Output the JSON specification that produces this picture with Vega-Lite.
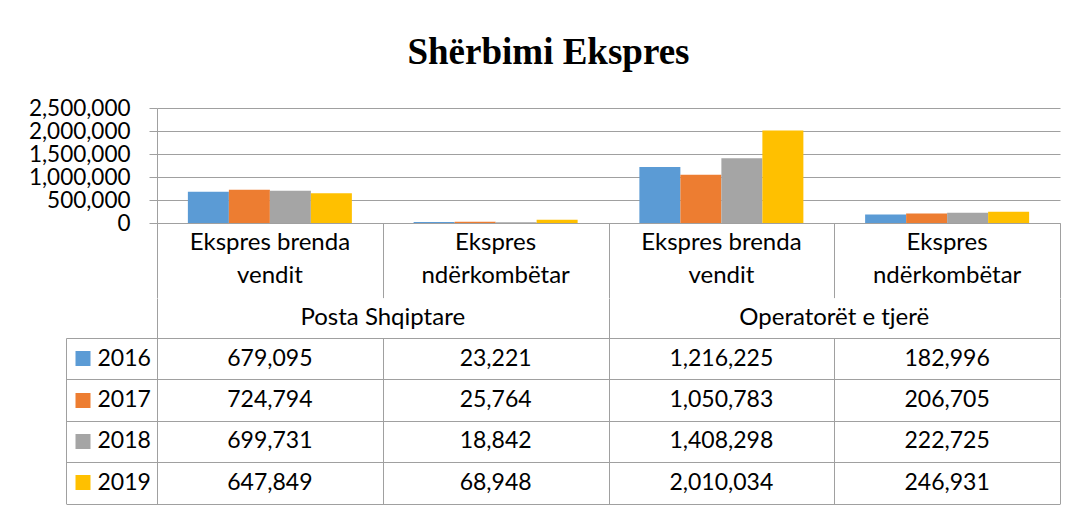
{
  "$schema": "https://vega.github.io/schema/vega-lite/v6.json",
  "background": "white",
  "padding": {"left": 28, "top": 34, "right": 12, "bottom": 4},
  "title": {"text": "Shërbimi Ekspres", "font": "Liberation Serif", "fontSize": 37, "fontWeight": "bold", "color": "black", "anchor": "middle", "offset": 25, "dx": 4},
  "spacing": 0,
  "bounds": "flush",
  "config": {"view": {"stroke": null}, "axis": {"labelFont": "Lato", "labelColor": "black"}},
  "datasets": {
    "ekspres": [
      {"operatori": "Posta Shqiptare", "sherbimi": "Ekspres brenda vendit", "kategoria": "Posta Shqiptare - Ekspres brenda vendit", "viti": "2016", "vlera": 679095},
      {"operatori": "Posta Shqiptare", "sherbimi": "Ekspres brenda vendit", "kategoria": "Posta Shqiptare - Ekspres brenda vendit", "viti": "2017", "vlera": 724794},
      {"operatori": "Posta Shqiptare", "sherbimi": "Ekspres brenda vendit", "kategoria": "Posta Shqiptare - Ekspres brenda vendit", "viti": "2018", "vlera": 699731},
      {"operatori": "Posta Shqiptare", "sherbimi": "Ekspres brenda vendit", "kategoria": "Posta Shqiptare - Ekspres brenda vendit", "viti": "2019", "vlera": 647849},
      {"operatori": "Posta Shqiptare", "sherbimi": "Ekspres ndërkombëtar", "kategoria": "Posta Shqiptare - Ekspres ndërkombëtar", "viti": "2016", "vlera": 23221},
      {"operatori": "Posta Shqiptare", "sherbimi": "Ekspres ndërkombëtar", "kategoria": "Posta Shqiptare - Ekspres ndërkombëtar", "viti": "2017", "vlera": 25764},
      {"operatori": "Posta Shqiptare", "sherbimi": "Ekspres ndërkombëtar", "kategoria": "Posta Shqiptare - Ekspres ndërkombëtar", "viti": "2018", "vlera": 18842},
      {"operatori": "Posta Shqiptare", "sherbimi": "Ekspres ndërkombëtar", "kategoria": "Posta Shqiptare - Ekspres ndërkombëtar", "viti": "2019", "vlera": 68948},
      {"operatori": "Operatorët e tjerë", "sherbimi": "Ekspres brenda vendit", "kategoria": "Operatorët e tjerë - Ekspres brenda vendit", "viti": "2016", "vlera": 1216225},
      {"operatori": "Operatorët e tjerë", "sherbimi": "Ekspres brenda vendit", "kategoria": "Operatorët e tjerë - Ekspres brenda vendit", "viti": "2017", "vlera": 1050783},
      {"operatori": "Operatorët e tjerë", "sherbimi": "Ekspres brenda vendit", "kategoria": "Operatorët e tjerë - Ekspres brenda vendit", "viti": "2018", "vlera": 1408298},
      {"operatori": "Operatorët e tjerë", "sherbimi": "Ekspres brenda vendit", "kategoria": "Operatorët e tjerë - Ekspres brenda vendit", "viti": "2019", "vlera": 2010034},
      {"operatori": "Operatorët e tjerë", "sherbimi": "Ekspres ndërkombëtar", "kategoria": "Operatorët e tjerë - Ekspres ndërkombëtar", "viti": "2016", "vlera": 182996},
      {"operatori": "Operatorët e tjerë", "sherbimi": "Ekspres ndërkombëtar", "kategoria": "Operatorët e tjerë - Ekspres ndërkombëtar", "viti": "2017", "vlera": 206705},
      {"operatori": "Operatorët e tjerë", "sherbimi": "Ekspres ndërkombëtar", "kategoria": "Operatorët e tjerë - Ekspres ndërkombëtar", "viti": "2018", "vlera": 222725},
      {"operatori": "Operatorët e tjerë", "sherbimi": "Ekspres ndërkombëtar", "kategoria": "Operatorët e tjerë - Ekspres ndërkombëtar", "viti": "2019", "vlera": 246931}
    ],
    "kategorite": [
      {"operatori": "Posta Shqiptare", "sherbimi": "Ekspres brenda vendit", "kategoria": "Posta Shqiptare - Ekspres brenda vendit"},
      {"operatori": "Posta Shqiptare", "sherbimi": "Ekspres ndërkombëtar", "kategoria": "Posta Shqiptare - Ekspres ndërkombëtar"},
      {"operatori": "Operatorët e tjerë", "sherbimi": "Ekspres brenda vendit", "kategoria": "Operatorët e tjerë - Ekspres brenda vendit"},
      {"operatori": "Operatorët e tjerë", "sherbimi": "Ekspres ndërkombëtar", "kategoria": "Operatorët e tjerë - Ekspres ndërkombëtar"}
    ],
    "operatoret": [
      {"operatori": "Posta Shqiptare"},
      {"operatori": "Operatorët e tjerë"}
    ]
  },
  "vconcat": [
    {
      "width": 903,
      "height": 115,
      "data": {"name": "ekspres"},
      "mark": {"type": "bar"},
      "encoding": {
        "x": {
          "field": "kategoria", "type": "nominal",
          "sort": ["Posta Shqiptare - Ekspres brenda vendit", "Posta Shqiptare - Ekspres ndërkombëtar", "Operatorët e tjerë - Ekspres brenda vendit", "Operatorët e tjerë - Ekspres ndërkombëtar"],
          "scale": {"paddingInner": 0, "paddingOuter": 0},
          "axis": {"title": null, "orient": "bottom", "domainColor": "#A0A0A0", "ticks": false, "labels": false}
        },
        "xOffset": {"field": "viti", "type": "nominal", "scale": {"paddingInner": 0, "paddingOuter": 0.753}},
        "y": {
          "field": "vlera", "type": "quantitative",
          "scale": {"domain": [0, 2500000]},
          "axis": {
            "title": null, "values": [0, 500000, 1000000, 1500000, 2000000, 2500000], "format": ",.0f",
            "domainColor": "#A0A0A0", "tickSize": 8, "tickColor": "#A0A0A0",
            "grid": true, "gridColor": "#A0A0A0", "labelPadding": 19, "labelFontSize": 22.5,
            "labelOverlap": false, "labelFlush": false
          }
        },
        "color": {
          "field": "viti", "type": "nominal",
          "scale": {"domain": ["2016", "2017", "2018", "2019"], "range": ["#5B9BD5", "#ED7D31", "#A5A5A5", "#FFC000"]},
          "legend": null
        }
      }
    },
    {
      "width": 903,
      "height": 74.6,
      "data": {"name": "kategorite"},
      "layer": [
        {
          "mark": {"type": "text", "font": "Lato", "fontSize": 24, "color": "black", "baseline": "alphabetic", "dy": -10},
          "encoding": {
            "x": {
              "field": "kategoria", "type": "nominal",
              "sort": ["Posta Shqiptare - Ekspres brenda vendit", "Posta Shqiptare - Ekspres ndërkombëtar", "Operatorët e tjerë - Ekspres brenda vendit", "Operatorët e tjerë - Ekspres ndërkombëtar"],
              "scale": {"type": "band", "paddingInner": 0, "paddingOuter": 0},
              "axis": {"title": null, "orient": "top", "labels": false, "domain": false, "ticks": false, "grid": true, "gridColor": "#A0A0A0", "tickBand": "extent"}
            },
            "text": {"condition": {"test": "datum.sherbimi == 'Ekspres brenda vendit'", "value": "Ekspres brenda"}, "value": "Ekspres"}
          }
        },
        {
          "mark": {"type": "text", "font": "Lato", "fontSize": 24, "color": "black", "baseline": "alphabetic", "dy": 23},
          "encoding": {
            "x": {
              "field": "kategoria", "type": "nominal",
              "sort": ["Posta Shqiptare - Ekspres brenda vendit", "Posta Shqiptare - Ekspres ndërkombëtar", "Operatorët e tjerë - Ekspres brenda vendit", "Operatorët e tjerë - Ekspres ndërkombëtar"]
            },
            "text": {"condition": {"test": "datum.sherbimi == 'Ekspres brenda vendit'", "value": "vendit"}, "value": "ndërkombëtar"}
          }
        }
      ]
    },
    {
      "width": 903,
      "height": 40,
      "data": {"name": "operatoret"},
      "mark": {"type": "text", "font": "Lato", "fontSize": 24, "color": "black", "baseline": "middle"},
      "encoding": {
        "x": {
          "field": "operatori", "type": "nominal", "sort": ["Posta Shqiptare", "Operatorët e tjerë"],
          "scale": {"type": "band", "paddingInner": 0, "paddingOuter": 0},
          "axis": {"title": null, "orient": "top", "labels": false, "domain": false, "ticks": false, "grid": true, "gridColor": "#A0A0A0", "tickBand": "extent"}
        },
        "text": {"field": "operatori"}
      }
    },
    {
      "width": 903,
      "height": 165.5,
      "data": {"name": "ekspres"},
      "layer": [
        {
          "mark": {"type": "rect", "fill": "transparent"},
          "encoding": {
            "x": {
              "field": "kategoria", "type": "nominal",
              "sort": ["Posta Shqiptare - Ekspres brenda vendit", "Posta Shqiptare - Ekspres ndërkombëtar", "Operatorët e tjerë - Ekspres brenda vendit", "Operatorët e tjerë - Ekspres ndërkombëtar"],
              "scale": {"type": "band", "paddingInner": 0, "paddingOuter": 0},
              "axis": {"title": null, "orient": "top", "labels": false, "domain": false, "ticks": false, "grid": true, "gridColor": "#A0A0A0", "tickBand": "extent", "zindex": 1}
            },
            "y": {
              "field": "viti", "type": "nominal",
              "scale": {"type": "band", "paddingInner": 0, "paddingOuter": 0},
              "axis": {
                "title": null, "orient": "left", "offset": 82, "domain": false, "grid": false,
                "ticks": true, "tickSize": -15, "tickWidth": 15,
                "tickColor": {"condition": [
                  {"test": "datum.value == '2016'", "value": "#5B9BD5"},
                  {"test": "datum.value == '2017'", "value": "#ED7D31"},
                  {"test": "datum.value == '2018'", "value": "#A5A5A5"}
                ], "value": "#FFC000"},
                "labels": true, "labelAlign": "left", "labelBaseline": "middle", "labelPadding": -7, "labelFontSize": 23, "zindex": 1
              }
            }
          }
        },
        {
          "mark": {"type": "text", "font": "Lato", "fontSize": 23, "color": "black", "baseline": "middle"},
          "encoding": {
            "x": {
              "field": "kategoria", "type": "nominal",
              "sort": ["Posta Shqiptare - Ekspres brenda vendit", "Posta Shqiptare - Ekspres ndërkombëtar", "Operatorët e tjerë - Ekspres brenda vendit", "Operatorët e tjerë - Ekspres ndërkombëtar"]
            },
            "y": {
              "field": "viti", "type": "nominal",
              "axis": {
                "title": null, "orient": "left", "offset": 91, "domain": true, "domainColor": "#A0A0A0",
                "ticks": true, "tickBand": "extent", "tickSize": -994, "tickColor": "#A0A0A0",
                "labels": false, "grid": false, "zindex": 1
              }
            },
            "text": {"field": "vlera", "type": "quantitative", "format": ",.0f"}
          }
        }
      ],
      "resolve": {"axis": {"y": "independent"}}
    }
  ],
  "resolve": {"scale": {"x": "independent", "y": "independent"}}
}
